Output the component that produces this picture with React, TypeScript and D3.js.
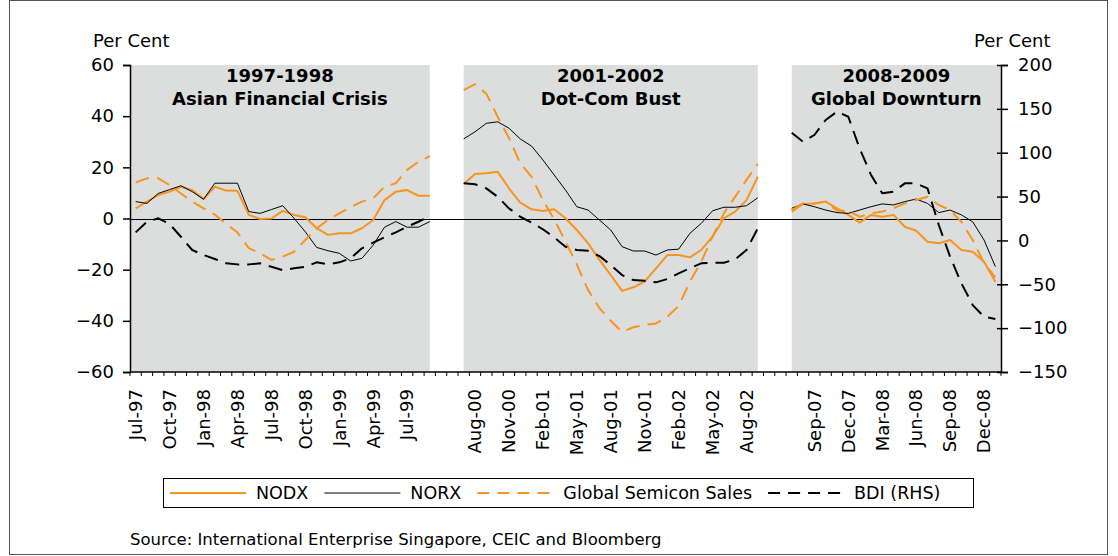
import React, { useEffect, useRef } from 'react';
import * as d3 from 'd3';

const W = 1118;
const H = 556;

const MONTHS = ['Jan', 'Feb', 'Mar', 'Apr', 'May', 'Jun', 'Jul', 'Aug', 'Sep', 'Oct', 'Nov', 'Dec'];

// Three episodes shown side by side on one monthly category axis
const PANEL_TITLES = [
  ['1997-1998', 'Asian Financial Crisis'],
  ['2001-2002', 'Dot-Com Bust'],
  ['2008-2009', 'Global Downturn'],
];
const PANEL_START = [
  [1997, 6], // Jul-97
  [2000, 6], // Jul-00
  [2007, 6], // Jul-07
];
const PANEL_COUNT = [27, 27, 19];
const GAP_CATEGORIES = 2;
const LABEL_EVERY = 3;

// Left axis (per cent)
const LEFT_TICKS = [-60, -40, -20, 0, 20, 40, 60];
// Right axis (per cent, BDI)
const RIGHT_TICKS = [-150, -100, -50, 0, 50, 100, 150, 200];

// NODX (LHS)
const NODX_97 = [4.0, 6.6, 9.2, 10.5, 12.4, 11.1, 7.6, 12.4, 10.9, 10.8, 1.4, -0.2, 0.0, 3.0, 1.4, 0.5, -3.8, -6.4, -5.8, -5.8, -3.8, -0.6, 7.2, 10.5, 11.1, 8.9, 8.9];
const NODX_00 = [13.5, 17.4, 17.7, 18.3, 11.8, 6.2, 3.6, 2.9, 3.6, 0.1, -4.5, -9.7, -16.2, -22.1, -28.3, -26.9, -24.7, -19.5, -14.3, -14.3, -15.2, -12.3, -7.1, 0.1, 2.7, 7.2, 16.3];
const NODX_07 = [2.7, 5.7, 5.9, 6.6, 4.0, 1.4, -1.6, 1.4, 0.7, 1.4, -3.2, -4.8, -9.1, -9.7, -8.4, -12.3, -13.0, -16.9, -24.7];

// NORX (LHS)
const NORX_97 = [6.6, 5.9, 9.8, 11.3, 12.8, 10.5, 7.5, 13.8, 13.8, 13.8, 2.7, 2.0, 3.5, 5.0, 0.1, -5.2, -11.3, -12.6, -13.6, -16.6, -15.6, -10.4, -3.4, -1.2, -3.4, -3.4, -1.2];
const NORX_00 = [31.1, 33.9, 37.2, 37.8, 35.3, 31.1, 28.3, 22.9, 17.0, 11.1, 4.6, 3.3, -0.6, -4.5, -11.0, -12.7, -12.7, -14.3, -12.3, -12.0, -5.8, -1.9, 3.0, 4.4, 4.4, 5.0, 8.1];
const NORX_07 = [4.0, 5.7, 4.6, 3.3, 2.3, 2.0, 3.3, 4.6, 5.7, 5.3, 6.6, 7.6, 5.9, 2.3, 3.3, 1.4, -1.3, -8.4, -18.8];

// Global Semicon Sales (LHS)
const SEMI_97 = [14.1, 15.7, 15.7, 13.1, 9.8, 6.6, 4.0, 1.5, -2.0, -5.5, -11.6, -13.6, -16.2, -14.9, -13.0, -8.4, -3.8, -0.6, 2.0, 4.4, 6.6, 7.9, 12.4, 13.8, 19.0, 22.2, 24.4];
const SEMI_00 = [50.2, 52.5, 48.8, 39.8, 31.5, 21.6, 16.3, 7.2, -0.3, -9.0, -18.0, -28.0, -35.0, -40.0, -44.3, -42.5, -41.6, -41.0, -38.4, -34.2, -24.7, -16.9, -7.1, 2.0, 8.5, 15.1, 21.3];
const SEMI_07 = [3.3, 5.9, 5.9, 6.6, 3.0, 3.0, 0.7, 2.0, 2.7, 4.0, 5.9, 7.2, 8.5, 5.3, 3.3, -1.3, -8.4, -17.5, -23.0];

// BDI (RHS)
const BDI_97 = [9.2, 21.3, 25.2, 18.7, 4.2, -10.9, -16.6, -21.2, -26.1, -27.3, -27.3, -26.1, -30.0, -33.8, -31.8, -30.0, -25.0, -27.3, -25.0, -20.4, -9.0, -2.6, 3.5, 9.2, 15.6, 21.3, 27.8];
const BDI_00 = [65.1, 64.0, 59.4, 49.8, 36.6, 27.0, 20.2, 12.7, 3.5, -7.2, -10.9, -11.7, -17.8, -28.1, -39.5, -45.2, -46.0, -47.8, -44.0, -37.5, -31.8, -26.1, -25.4, -25.4, -21.6, -10.9, 13.8];
const BDI_07 = [122.8, 112.5, 120.2, 137.3, 146.8, 141.0, 105.0, 74.9, 53.7, 55.5, 65.1, 65.1, 59.4, 17.6, -18.6, -48.9, -73.7, -87.0, -89.6];

const ORANGE = '#f7941e';
const GREY_BAND = '#dcdddd';
const FONT = "'DejaVu Sans', Verdana, sans-serif";

const SERIES = [
  { name: 'NODX', axis: 'L', color: ORANGE, width: 2, dash: null as string | null, panels: [NODX_97, NODX_00, NODX_07] },
  { name: 'NORX', axis: 'L', color: '#000000', width: 1, dash: null as string | null, panels: [NORX_97, NORX_00, NORX_07] },
  { name: 'Global Semicon Sales', axis: 'L', color: ORANGE, width: 2, dash: '14,8', panels: [SEMI_97, SEMI_00, SEMI_07] },
  { name: 'BDI (RHS)', axis: 'R', color: '#000000', width: 2, dash: '14,8', panels: [BDI_97, BDI_00, BDI_07] },
];

function monthLabel(year: number, month: number) {
  return `${MONTHS[month]}-${String(year % 100).padStart(2, '0')}`;
}

export default function App() {
  const ref = useRef<SVGSVGElement | null>(null);

  useEffect(() => {
    const svg = d3.select(ref.current);
    svg.selectAll('*').remove();

    const left = 130;
    const right = 1001;
    const top = 65;
    const bottom = 372;

    // category layout
    const offsets: number[] = [];
    let acc = 0;
    PANEL_COUNT.forEach((c, k) => {
      offsets.push(acc);
      acc += c + (k < PANEL_COUNT.length - 1 ? GAP_CATEGORIES : 0);
    });
    const total = acc;
    const labels: string[] = d3.range(total).map(() => '');
    PANEL_COUNT.forEach((c, k) => {
      const [y0, m0] = PANEL_START[k];
      for (let i = 0; i < c; i++) {
        const m = m0 + i;
        labels[offsets[k] + i] = monthLabel(y0 + Math.floor(m / 12), m % 12);
      }
    });

    const x = d3.scaleBand<number>().domain(d3.range(total)).range([left, right]).padding(0);
    const bw = x.bandwidth();
    const cx = (i: number) => (x(i) as number) + bw / 2;
    const yL = d3.scaleLinear().domain([-60, 60]).range([bottom, top]);
    const yR = d3.scaleLinear().domain([-150, 200]).range([bottom, top]);

    // outer border
    svg.append('rect')
      .attr('x', 9.5).attr('y', 0.5).attr('width', 1098).attr('height', 554)
      .attr('fill', '#fff').attr('stroke', '#555').attr('stroke-width', 1);

    // grey panel bands
    PANEL_COUNT.forEach((c, k) => {
      const first = offsets[k];
      const last = offsets[k] + c - 1;
      const x0 = first === 0 ? left : cx(first);
      const x1 = last === total - 1 ? right : cx(last);
      svg.append('rect')
        .attr('x', x0).attr('y', top)
        .attr('width', x1 - x0).attr('height', bottom - top)
        .attr('fill', GREY_BAND);
      const mid = (x0 + x1) / 2;
      const t = svg.append('text')
        .attr('x', mid).attr('text-anchor', 'middle')
        .attr('font-family', FONT).attr('font-size', 18).attr('font-weight', 'bold')
        .attr('fill', '#000');
      t.append('tspan').attr('x', mid).attr('y', 81.5).text(PANEL_TITLES[k][0]);
      t.append('tspan').attr('x', mid).attr('y', 105).text(PANEL_TITLES[k][1]);
    });

    // zero line
    svg.append('line')
      .attr('x1', left).attr('x2', right)
      .attr('y1', Math.round(yL(0)) + 0.5).attr('y2', Math.round(yL(0)) + 0.5)
      .attr('stroke', '#000').attr('stroke-width', 1);

    // series
    SERIES.forEach((s) => {
      const yS = s.axis === 'L' ? yL : yR;
      s.panels.forEach((arr, k) => {
        const line = d3.line<number>()
          .x((_, i) => cx(offsets[k] + i))
          .y((d) => yS(d));
        const p = svg.append('path')
          .attr('d', line(arr) as string)
          .attr('fill', 'none')
          .attr('stroke', s.color)
          .attr('stroke-width', s.width)
          .attr('stroke-linejoin', 'round');
        if (s.dash) p.attr('stroke-dasharray', s.dash);
      });
    });

    // left axis
    const gL = svg.append('g').attr('transform', `translate(${left},0)`);
    gL.call(d3.axisLeft(yL).tickValues(LEFT_TICKS).tickSize(7).tickPadding(9).tickFormat(d3.format('d')) as any);
    gL.select('.domain').attr('stroke-width', 1.5);
    gL.selectAll('.tick line').attr('stroke-width', 1.5);
    gL.selectAll('text').attr('font-family', FONT).attr('font-size', 18).attr('fill', '#000');

    // right axis
    const gR = svg.append('g').attr('transform', `translate(${right},0)`);
    gR.call(d3.axisRight(yR).tickValues(RIGHT_TICKS).tickSize(7).tickPadding(10).tickFormat(d3.format('d')) as any);
    gR.select('.domain').attr('stroke-width', 1.5);
    gR.selectAll('.tick line').attr('x1', -4).attr('stroke-width', 1.5);
    gR.selectAll('text').attr('font-family', FONT).attr('font-size', 18).attr('fill', '#000');

    // bottom axis
    svg.append('line')
      .attr('x1', left).attr('x2', right).attr('y1', bottom).attr('y2', bottom)
      .attr('stroke', '#000').attr('stroke-width', 1.5);
    d3.range(total + 1).forEach((i) => {
      const xx = left + i * bw;
      svg.append('line')
        .attr('x1', xx).attr('x2', xx).attr('y1', bottom).attr('y2', bottom + 4)
        .attr('stroke', '#000').attr('stroke-width', 1);
    });
    labels.forEach((lab, i) => {
      if (!lab || i % LABEL_EVERY !== 0) return;
      svg.append('text')
        .attr('transform', `translate(${cx(i)},${bottom + 17}) rotate(-90)`)
        .attr('text-anchor', 'end')
        .attr('dy', '0.35em')
        .attr('font-family', FONT).attr('font-size', 18).attr('fill', '#000')
        .text(lab);
    });

    // axis titles
    svg.append('text').attr('x', 93).attr('y', 46.5)
      .attr('font-family', FONT).attr('font-size', 18).attr('fill', '#000').text('Per Cent');
    svg.append('text').attr('x', 974).attr('y', 46.5)
      .attr('font-family', FONT).attr('font-size', 18).attr('fill', '#000').text('Per Cent');

    // legend
    const lgTop = 478.5;
    const lgH = 29;
    svg.append('rect')
      .attr('x', 163.5).attr('y', lgTop).attr('width', 810).attr('height', lgH)
      .attr('fill', '#fff').attr('stroke', '#000').attr('stroke-width', 1);
    const ly = lgTop + lgH / 2;
    let lx = 170;
    const lineLen = 76;
    SERIES.forEach((s) => {
      const l = svg.append('line')
        .attr('x1', lx).attr('x2', lx + lineLen).attr('y1', ly).attr('y2', ly)
        .attr('stroke', s.color).attr('stroke-width', s.width);
      if (s.dash) l.attr('stroke-dasharray', '12,8');
      const t = svg.append('text')
        .attr('x', lx + lineLen + 10).attr('y', ly).attr('dy', '0.36em')
        .attr('font-family', FONT).attr('font-size', 17.5).attr('fill', '#000')
        .text(s.name);
      const tw = (t.node() as SVGTextElement).getComputedTextLength();
      lx = lx + lineLen + 10 + tw + 16;
    });

    // source
    svg.append('text').attr('x', 130).attr('y', 545)
      .attr('font-family', FONT).attr('font-size', 16.5).attr('fill', '#000')
      .text('Source: International Enterprise Singapore, CEIC and Bloomberg');
  }, []);

  return (
    <svg
      ref={ref}
      width={W}
      height={H}
      style={{ position: 'absolute', left: 0, top: 0, background: '#fff' }}
    />
  );
}
